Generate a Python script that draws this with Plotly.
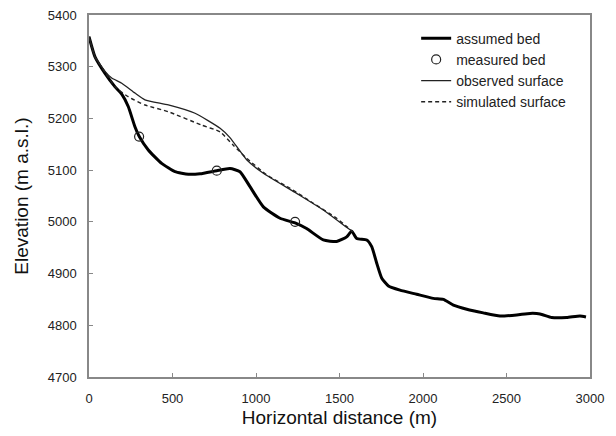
import plotly.graph_objects as go

bed_x = [0, 36, 96, 156, 196, 235, 275, 301, 355, 435, 515, 595, 665, 765, 844, 904, 964, 1044,
         1144, 1234, 1303, 1403, 1483, 1543, 1573, 1603, 1663, 1693, 1723, 1753, 1793, 1862, 1962,
         2062, 2122, 2182, 2262, 2361, 2461, 2561, 2641, 2701, 2771, 2860, 2940, 2976]
bed_y = [5358, 5319, 5287, 5261, 5247, 5223, 5184, 5165, 5139, 5113, 5097, 5092, 5093, 5099, 5103,
         5097, 5068, 5029, 5007, 4998, 4987, 4965, 4962, 4971, 4982, 4968, 4965, 4952, 4920, 4891,
         4876, 4868, 4860, 4852, 4850, 4839, 4831, 4824, 4818, 4820, 4823, 4822, 4815, 4815, 4818,
         4816]

meas_x = [300, 765, 1234]
meas_y = [5165, 5099, 5000]

obs_x = [0, 36, 96, 136, 196, 275, 335, 475, 635, 785, 844, 944, 1044, 1244, 1403, 1553, 1580]
obs_y = [5358, 5319, 5291, 5278, 5268, 5249, 5236, 5226, 5210, 5181, 5163, 5120, 5094, 5055, 5023,
         4987, 4981]

sim_x = [0, 36, 96, 156, 235, 335, 475, 675, 785, 864, 944, 1064, 1204, 1343, 1483, 1543, 1580]
sim_y = [5358, 5319, 5289, 5261, 5242, 5226, 5213, 5187, 5174, 5148, 5123, 5091, 5065, 5036, 5007,
         4991, 4981]

font = "Arial, Liberation Sans, sans-serif"

fig = go.Figure()
fig.add_trace(go.Scatter(x=bed_x, y=bed_y, mode="lines", name="assumed bed",
                         line=dict(color="black", width=3, shape="spline", smoothing=0.5)))
fig.add_trace(go.Scatter(x=meas_x, y=meas_y, mode="markers", name="measured bed",
                         marker=dict(symbol="circle-open", size=9, color="#222",
                                     line=dict(width=1.2))))
fig.add_trace(go.Scatter(x=obs_x, y=obs_y, mode="lines", name="observed surface",
                         line=dict(color="#222", width=1.3, shape="spline", smoothing=0.5)))
fig.add_trace(go.Scatter(x=sim_x, y=sim_y, mode="lines", name="simulated surface",
                         line=dict(color="#222", width=1.4, dash="4px,3px", shape="spline", smoothing=0.5)))

# page body has an 8px default margin, so the figure is 600x420 drawn at (8, 8)
fig.update_layout(
    width=600, height=420,
    margin=dict(l=81, r=18, t=7, b=51, autoexpand=False),
    paper_bgcolor="white", plot_bgcolor="white",
    font=dict(family=font, color="#222", size=13),
    showlegend=True,
    legend=dict(x=0.653, y=0.979, xanchor="left", yanchor="top",
                bgcolor="rgba(0,0,0,0)", font=dict(size=14, family=font, color="#222"),
                itemwidth=30, tracegroupgap=0, traceorder="normal"),
    xaxis=dict(range=[0, 3000], tickvals=[0, 500, 1000, 1500, 2000, 2500, 3000],
               showgrid=False, zeroline=False, showline=True, linecolor="#888", linewidth=1.5,
               mirror=True, ticks="inside", ticklen=4, tickcolor="#888", automargin=False,
               ticklabeloverflow="allow",
               tickfont=dict(size=13, family=font, color="#222"), ticklabelstandoff=9,
               title=dict(text="Horizontal distance (m)", font=dict(size=19, family=font, color="#111"),
                          standoff=16)),
    yaxis=dict(range=[4700, 5400], tickvals=[4700, 4800, 4900, 5000, 5100, 5200, 5300, 5400],
               showgrid=False, zeroline=False, showline=True, linecolor="#888", linewidth=1.5,
               mirror=True, ticks="inside", ticklen=4, tickcolor="#888", automargin=False,
               ticklabeloverflow="allow",
               tickfont=dict(size=13, family=font, color="#222"), ticklabelstandoff=8,
               title=dict(text="Elevation (m a.s.l.)", font=dict(size=19, family=font, color="#111"),
                          standoff=14)),
)

fig.write_html("out.html")
